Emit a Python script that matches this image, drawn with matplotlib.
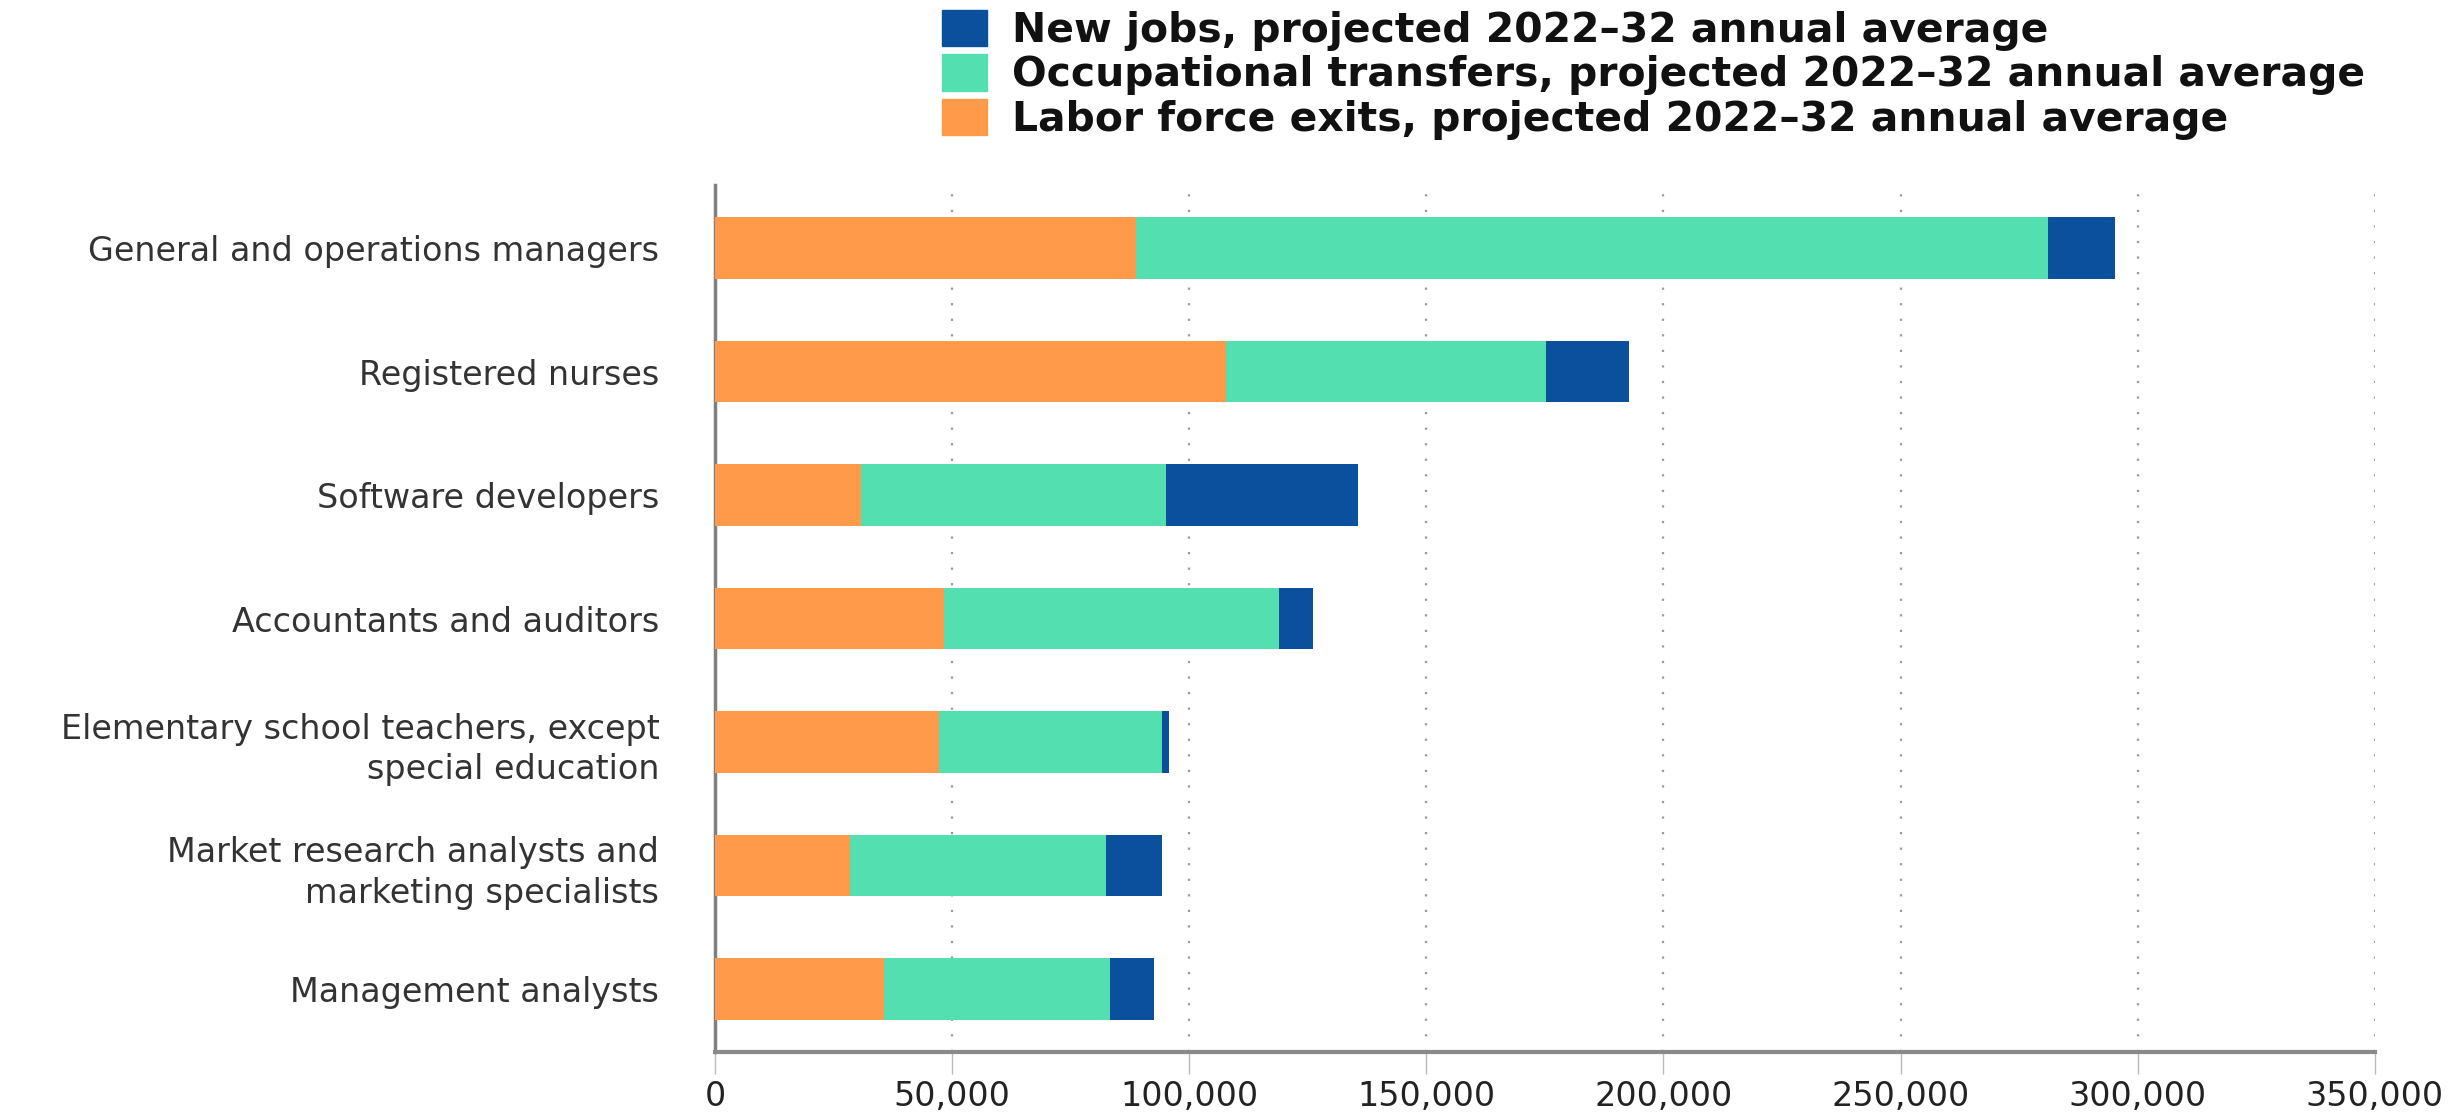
import matplotlib.pyplot as plt
from matplotlib.patches import Patch
from matplotlib.ticker import FuncFormatter

occupations = [
    'General and operations managers',
    'Registered nurses',
    'Software developers',
    'Accountants and auditors',
    'Elementary school teachers, except\nspecial education',
    'Market research analysts and\nmarketing specialists',
    'Management analysts',
]

# annual average openings, projected 2022-32
labor_force_exits = [88800, 107800, 30800, 48300, 47200, 28400, 35600]
occupational_transfers = [192200, 67500, 64300, 70600, 47100, 54000, 47600]
new_jobs = [14300, 17500, 40500, 7100, 1500, 11900, 9400]

series_labels = [
    'New jobs, projected 2022\u201332 annual average',
    'Occupational transfers, projected 2022\u201332 annual average',
    'Labor force exits, projected 2022\u201332 annual average',
]

ORANGE = '#FF9A4A'
TEAL = '#53DFB0'
BLUE = '#0B509C'

fig = plt.figure(figsize=(24.61, 11.16), dpi=100)
ax = fig.add_axes([0.2905, 0.0573, 0.6745, 0.7769])

y = list(range(len(occupations)))
left2 = [a + b for a, b in zip(labor_force_exits, occupational_transfers)]

ax.barh(y, labor_force_exits, height=0.5, color=ORANGE, zorder=3)
ax.barh(y, occupational_transfers, left=labor_force_exits, height=0.5, color=TEAL, zorder=3)
ax.barh(y, new_jobs, left=left2, height=0.5, color=BLUE, zorder=3)

ax.set_xlim(0, 350000)
ax.set_ylim(6.51, -0.51)
ax.set_xticks(range(0, 350001, 50000))
ax.xaxis.set_major_formatter(FuncFormatter(lambda v, p: f'{int(v):,}'))
ax.set_yticks(y)
ax.set_yticklabels(occupations, fontsize=24, color='#333333', linespacing=1.3)

for xv in range(50000, 350001, 50000):
    ax.axvline(xv, color='#9a9a9a', lw=1.6, linestyle=(0, (1, 6)), zorder=1)

for s in ['top', 'right']:
    ax.spines[s].set_visible(False)
ax.spines['left'].set_color('#808080')
ax.spines['left'].set_linewidth(2.5)
ax.spines['bottom'].set_color('#8a8a8a')
ax.spines['bottom'].set_linewidth(3)

ax.tick_params(axis='y', length=0, pad=40)
ax.tick_params(axis='x', length=16, width=1, color='#bbbbbb', pad=4,
               labelsize=24, labelcolor='#222222')

handles = [Patch(color=BLUE), Patch(color=TEAL), Patch(color=ORANGE)]
fig.legend(handles, series_labels, loc='upper left', bbox_to_anchor=(0.376, 1.006),
           frameon=False, handlelength=1.1, handleheight=1.0, handletextpad=0.62,
           labelspacing=0.08, borderaxespad=0, labelcolor='#111111',
           prop={'weight': 'bold', 'size': 29.4})

fig.savefig('out.png', dpi=100)
